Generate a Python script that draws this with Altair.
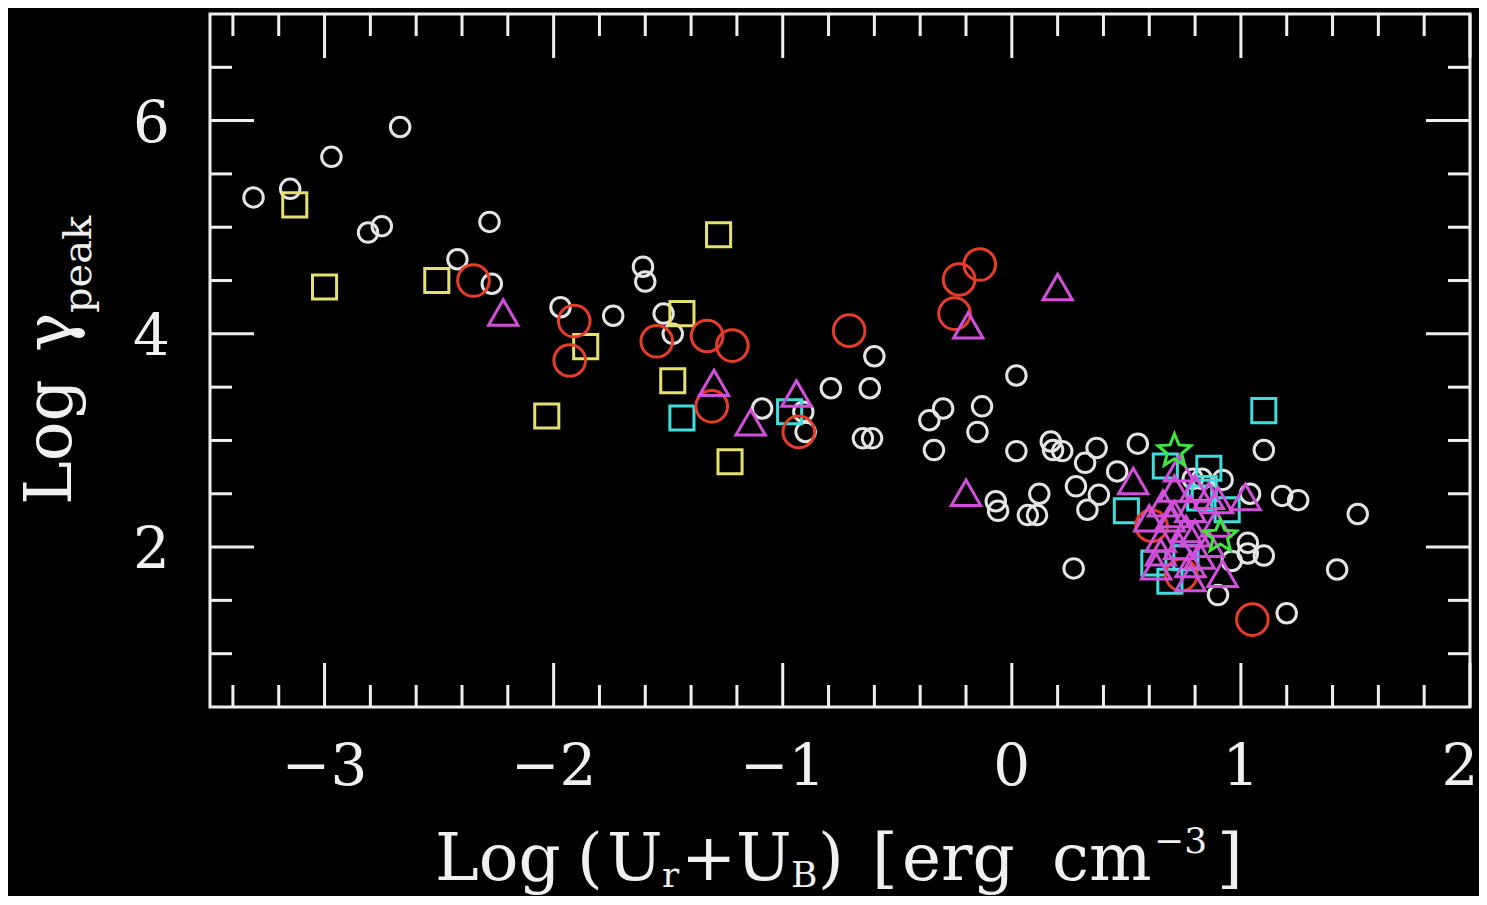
import altair as alt
import pandas as pd

# ---------------- data ----------------
white_x = [-3.31, -3.15, -2.97, -2.67, -2.81, -2.75, -2.28, -2.42, -2.27, -1.61,
           -1.60, -1.97, -1.74, -1.52, -1.48, -1.09, -0.91, -0.90, -0.79, -0.62,
           -0.60, -0.65, -0.61, -0.36, -0.30, -0.34, -0.13, -0.15, 0.02, 0.02,
           0.17, 0.18, 0.22, 0.37, 0.32, 0.55, 0.46, 0.28, 0.38, 0.33,
           -0.07, -0.06, 0.12, 0.07, 0.11, 0.27, 1.10, 1.18, 1.25, 1.04,
           0.83, 0.92, 1.51, 1.42, 1.03, 1.10, 1.03, 0.96, 0.90, 1.20, 0.79]
white_y = [5.28, 5.36, 5.66, 5.94, 4.95, 5.01, 5.05, 4.70, 4.47, 4.63,
           4.49, 4.25, 4.17, 4.19, 4.00, 3.30, 3.27, 3.08, 3.49, 3.49,
           3.79, 3.02, 3.02, 3.19, 3.30, 2.91, 3.32, 3.08, 3.61, 2.90,
           2.99, 2.91, 2.90, 2.93, 2.79, 2.97, 2.71, 2.57, 2.49, 2.35,
           2.43, 2.34, 2.50, 2.30, 2.30, 1.80, 2.91, 2.48, 2.44, 2.50,
           2.64, 2.63, 2.31, 1.79, 2.04, 1.92, 1.94, 1.87, 1.55, 1.38, 2.64]

yellow_x = [-3.13, -3.00, -2.51, -1.86, -2.03, -1.48, -1.44, -1.28, -1.23]
yellow_y = [5.21, 4.44, 4.50, 3.88, 3.23, 3.56, 4.19, 4.93, 2.80]

cyan_x = [-1.44, -0.97, 1.10, 0.50, 0.67, 0.94, 0.69, 0.84, 0.82, 0.86, 0.76, 0.62]
cyan_y = [3.21, 3.27, 3.28, 2.34, 2.76, 2.35, 1.68, 2.55, 2.46, 2.74, 1.90, 1.85]

red_x = [-2.35, -1.91, -1.93, -1.55, -1.33, -1.22, -1.31, -0.93, -0.71,
         -0.23, -0.14, -0.25, 0.61, 0.74, 1.05]
red_y = [4.50, 4.12, 3.75, 3.93, 3.98, 3.89, 3.32, 3.08, 4.03,
         4.51, 4.65, 4.19, 2.20, 1.74, 1.32]

magenta_x = [-2.22, -1.30, -1.14, -0.94, -0.19, 0.20, -0.20, 0.53, 1.02, 0.63, 0.92,
             0.73, 0.71, 0.78, 0.69, 0.80, 0.73, 0.82, 0.65, 0.86, 0.89, 0.66, 0.78,
             0.60, 0.76, 0.71, 0.80, 0.65, 0.86, 0.78, 0.90]
magenta_y = [4.20, 3.54, 3.17, 3.44, 4.08, 4.44, 2.51, 2.62, 2.47, 1.82, 1.75,
             2.74, 2.55, 2.36, 2.27, 2.13, 2.01, 1.92, 2.08, 2.48, 2.22, 2.41, 1.71,
             2.27, 2.17, 2.31, 2.55, 1.95, 2.03, 1.84, 2.44]

green_x = [0.71, 0.91]
green_y = [2.90, 2.10]

# tick positions and labels
x_major = [-3, -2, -1, 0, 1, 2]
x_minor = [-3.4, -3.2, -2.8, -2.6, -2.4, -2.2, -1.8, -1.6, -1.4, -1.2,
           -0.8, -0.6, -0.4, -0.2, 0.2, 0.4, 0.6, 0.8, 1.2, 1.4, 1.6, 1.8]
y_major = [2, 4, 6]
y_minor = [1.0, 1.5, 2.5, 3.0, 3.5, 4.5, 5.0, 5.5, 6.5]

# ---------------- styling ----------------
W, H = 1260, 693
FONT = "DejaVu Serif"
FG = "#f0f0f0"
STAR = ("M0,-1L0.26,-0.36L0.951,-0.309L0.42,0.137L0.588,0.809L0,0.44"
        "L-0.588,0.809L-0.42,0.137L-0.951,-0.309L-0.26,-0.36Z")

xscale = alt.Scale(domain=[-3.5, 2.0], nice=False, zero=False)
yscale = alt.Scale(domain=[0.5, 7.0], nice=False, zero=False)


def series_layer(xs, ys, color, shape, size):
    d = pd.DataFrame({"x": xs, "y": ys})
    return alt.Chart(d).mark_point(
        filled=False, strokeWidth=3, opacity=1, color=color, shape=shape, size=size
    ).encode(
        x=alt.X("x:Q", scale=xscale, axis=None),
        y=alt.Y("y:Q", scale=yscale, axis=None),
    )


points = [
    series_layer(white_x, white_y, "#e4e4e4", "circle", 380),
    series_layer(yellow_x, yellow_y, "#e6e06e", "square", 580),
    series_layer(cyan_x, cyan_y, "#3edede", "square", 580),
    series_layer(red_x, red_y, "#e63c28", "circle", 1000),
    series_layer(magenta_x, magenta_y, "#d24fdc", "triangle-up", 860),
    series_layer(green_x, green_y, "#3ee63e", STAR, 1200),
]


def xticks(values, length):
    d = pd.DataFrame({"v": values})
    base = alt.Chart(d).mark_rule(color=FG, strokeWidth=3)
    top = base.encode(x=alt.X("v:Q", scale=xscale, axis=None), y=alt.value(0), y2=alt.value(length))
    bot = base.encode(x=alt.X("v:Q", scale=xscale, axis=None), y=alt.value(H), y2=alt.value(H - length))
    return [top, bot]


def yticks(values, length):
    d = pd.DataFrame({"v": values})
    base = alt.Chart(d).mark_rule(color=FG, strokeWidth=3)
    left = base.encode(y=alt.Y("v:Q", scale=yscale, axis=None), x=alt.value(0), x2=alt.value(length))
    right = base.encode(y=alt.Y("v:Q", scale=yscale, axis=None), x=alt.value(W), x2=alt.value(W - length))
    return [left, right]


def x_label_layer(values, dx=0):
    return alt.Chart(pd.DataFrame({"v": values})).mark_text(
        font=FONT, fontSize=58, color=FG, align="center", baseline="alphabetic", dx=dx
    ).encode(
        x=alt.X("v:Q", scale=xscale, axis=None),
        y=alt.value(H + 78),
        text=alt.Text("v:Q", format="d"),
    )


# the last label sits at the page edge: nudge it in so that it stays visible
x_labels = [x_label_layer(x_major[:-1]), x_label_layer(x_major[-1:], dx=-10)]

y_labels = alt.Chart(pd.DataFrame({"v": y_major})).mark_text(
    font=FONT, fontSize=58, color=FG, align="right", baseline="alphabetic", dy=21
).encode(
    y=alt.Y("v:Q", scale=yscale, axis=None),
    x=alt.value(-40),
    text=alt.Text("v:Q", format="d"),
)

one = pd.DataFrame({"k": [0]})


def txt(s, x, y, size, angle=0):
    return alt.Chart(one).mark_text(
        font=FONT, fontSize=size, color=FG, align="left", baseline="alphabetic", angle=angle
    ).encode(x=alt.value(x), y=alt.value(y), text=alt.value(s))


MB = 866   # main baseline of the x title
SB = 873   # subscript baseline
titles = [
    # x title: Log (U_r+U_B) [erg cm^-3]
    txt("Log", 225, MB, 66),
    txt("(", 367, MB, 66),
    txt("U", 397, MB, 66),
    txt("r", 452, SB, 36),
    txt("+", 471, MB, 66),
    txt("U", 526, MB, 66),
    txt("B", 581, SB, 36),
    txt(")", 608, MB, 66),
    txt("[", 662, MB, 66),
    txt("erg", 692, MB, 66),
    txt("cm", 842, MB, 66),
    txt("\u22123", 944, MB - 27, 36),
    txt("]", 1007, MB, 66),
    # y title: Log gamma_peak
    txt("Log", -139, 491, 66, 270),
    txt("\u03b3", -139, 338, 66, 270),
    txt("peak", -119, 299, 40, 270),
]

layers = (xticks(x_major, 44) + xticks(x_minor, 22) + yticks(y_major, 44) + yticks(y_minor, 22)
          + points + x_labels + [y_labels] + titles)

chart = alt.layer(*layers).properties(
    width=W, height=H,
    autosize=alt.AutoSizeParams(type="none"),
    padding={"left": 202, "top": 6, "right": 9, "bottom": 189},
).configure(background="black").configure_view(stroke=FG, strokeWidth=3, fill="black")

chart.save("out.html", embed_options={"renderer": "svg", "actions": False})
